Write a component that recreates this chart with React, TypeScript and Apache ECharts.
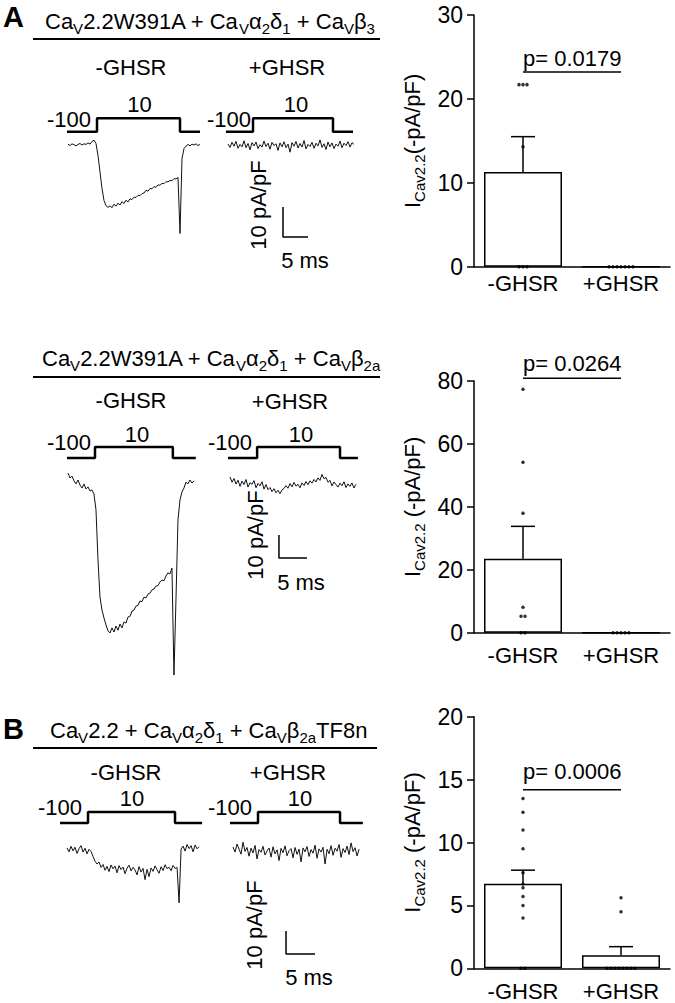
import React, { useEffect, useRef } from 'react';
import * as echarts from 'echarts';

const FONT = '"Liberation Sans", Arial, Helvetica, sans-serif';

// ---------------- Bar-chart data ----------------
const CATEGORIES = ['-GHSR', '+GHSR'];

// Panel A, CaV2.2W391A + CaVa2d1 + CaVb3
const A1_MEAN = [11.3, 0];
const A1_SEM = [4.2, 0];
const A1_PTS_MINUS = [21.7, 21.7, 21.7, 14.3, 0, 0, 0];
const A1_PTS_PLUS = [0, 0, 0, 0, 0, 0, 0];
const A1_BRACKET = 23.2;
const A1_P = 'p= 0.0179';
const A1_YMAX = 30;
const A1_YSTEP = 10;

// Panel A, CaV2.2W391A + CaVa2d1 + CaVb2a
const A2_MEAN = [23.5, 0];
const A2_SEM = [10.3, 0];
const A2_PTS_MINUS = [77.4, 54.2, 38.0, 8.1, 5.2, 5.2, 0, 0];
const A2_PTS_PLUS = [0, 0, 0, 0, 0];
const A2_BRACKET = 80.9;
const A2_P = 'p= 0.0264';
const A2_YMAX = 80;
const A2_YSTEP = 20;

// Panel B, CaV2.2 + CaVa2d1 + CaVb2aTF8n
const B_MEAN = [6.73, 1.03];
const B_SEM = [1.07, 0.69];
const B_PTS_MINUS = [13.5, 12.4, 11.0, 9.5, 7.6, 6.7, 6.4, 5.7, 5.0, 4.0, 0, 0];
const B_PTS_PLUS = [5.6, 4.5, 0, 0, 0, 0, 0, 0, 0, 0];
const B_BRACKET = 14.2;
const B_P = 'p= 0.0006';
const B_YMAX = 20;
const B_YSTEP = 5;

// ---------------- Voltage protocol (mV) ----------------
const V_HOLD = -100;
const V_TEST = 10;
// [start, step on, step off, end] in ms
const A1L_STEP_MS = [0, 6.0, 22.6, 26.6];
const A1R_STEP_MS = [0, 5.4, 21.4, 25.4];
const A2L_STEP_MS = [0, 5.0, 18.9, 23.0];
const A2R_STEP_MS = [0, 5.2, 20.0, 23.2];
const BL_STEP_MS = [0, 4.83, 19.83, 24.5];
const BR_STEP_MS = [0, 4.83, 18.97, 22.9];

// ---------------- Current traces (pA/pF), sampled every DT ms from T0 ----------------
const A1L_T0 = 0.2, A1L_DT = 0.4;
const A1L_TRACE = [0.3, -0.2, 0.4, 0.1, -0.3, 0.2, 0.5, 0.0, 0.4, 0.2, 0.7, 0.3, 1.2, 1.6, 0.5,
  -3.5, -9.0, -14.5, -18.5, -20.2, -20.8,
  -20.3, -20.9, -19.7, -20.4, -19.4, -20.0, -18.9, -19.5, -18.4, -19.0, -17.9, -18.2, -17.4, -17.5, -16.8,
  -16.9, -16.2, -16.0, -15.1, -15.4, -14.5, -14.6, -13.9, -14.1, -13.3, -13.4, -12.8, -12.9, -12.2, -12.3,
  -11.8, -11.9, -11.2, -11.3, -10.8,
  -29.5, -4.5, -1.2, -0.4, 0.2, -0.3, 0.3, 0.0, 0.4, -0.2, 0.2];

const A1R_T0 = 0.4, A1R_DT = 0.4;
const A1R_TRACE = [0.3, -0.8, 0.9, -0.4, 1.2, -1.1, 0.2, -0.6, 1.4, -0.9, 0.5, -1.6, 0.8, -0.3, 1.0, -1.2,
  0.1, -0.7, 1.3, -0.5, 0.6, -1.4, 0.9, -0.2, 0.4, -1.8, 0.7, -0.6, 1.1, -0.9, 0.3, -2.4, 0.8, -0.4, 1.2,
  -1.0, 0.5, -0.7, 1.5, -1.3, 0.2, -0.5, 0.9, -1.1, 0.6, -0.3, 1.7, -0.8, 0.4, -1.5, 1.0, -0.6, 0.7, -1.2,
  0.3, -0.4, 1.3, -0.9, 0.6, -0.2, 1.1, -0.7, 0.8, 0.2];

const A2L_T0 = 0.18, A2L_DT = 0.357;
const A2L_TRACE = [4.3, 2.2, 3.0, 0.9, -0.4, 1.3, -0.9, -2.2, -0.4, -2.6, -1.7, -3.5, -3.0, -4.8,
  -11.7, -33.5, -49.6, -55.2, -58.7, -61.7, -64.3, -65.2, -63.0, -64.8, -62.2, -64.0, -61.3, -63.0,
  -60.4, -60.9, -58.3, -58.0, -55.7, -55.3, -53.5, -53.2, -51.3, -51.6, -49.6, -50.0, -48.3, -47.9,
  -46.5, -46.1, -44.8, -44.6, -43.0, -42.2, -42.5, -40.4, -39.1, -39.5, -37.0,
  -83.5, -50.9, -16.1, -7.4, -3.9, -2.2, 0.4, -0.4, 1.3, 0.0, 0.9];

const A2R_T0 = 0.36, A2R_DT = 0.357;
const A2R_TRACE = [3.5, 1.2, 2.8, 0.4, 2.1, -0.6, 1.7, 0.2, 2.4, -0.9, 1.0, 0.3, 1.9, -1.2, 0.7, -0.4,
  1.4, -1.8, 0.2, -2.0, -1.1, -2.9, -1.6, -3.4, -2.3, -3.8, -2.1, -1.5, -0.3, -1.4, 0.6, -0.8, 1.1,
  -0.5, 0.3, -1.2, 0.9, -0.2, 1.5, 0.1, 1.8, 0.8, 2.4, 1.3, 3.1, 2.0, 4.6, 2.7, 3.3, 1.2, 2.0, -0.4,
  1.3, 0.2, -0.9, 0.8, -0.3, 1.4, -1.1, 0.5, -0.6, 0.9, -1.3, 0.3];

const BL_T0 = 1.21, BL_DT = 0.345;
const BL_TRACE = [0.9, -0.8, 1.6, -0.4, 1.2, -1.5, 0.6, 1.9, -0.9, 0.8, -1.7, 0.3, -0.6,
  -2.8, -4.9, -6.1, -5.2, -7.6,
  -6.3, -8.8, -7.1, -9.4, -6.5, -8.2, -7.0, -9.9, -6.8, -8.5, -7.4, -10.3, -7.9, -6.6, -9.1, -7.5,
  -8.7, -10.8, -7.2, -9.6, -8.0, -12.9, -8.4, -11.6, -7.8, -9.3, -6.9, -8.6, -10.1, -7.3, -8.9, -6.4,
  -8.1, -7.5, -9.0, -6.7, -8.0,
  -7.6, -23.0, 0.4, 1.7, -0.5, 2.4, 0.6, 1.9, -0.8, 2.2, 0.5, 1.4];

const BR_T0 = 0.52, BR_DT = 0.345;
const BR_TRACE = [1.3, -0.9, 2.6, 0.4, -1.8, 3.4, -0.6, 1.1, -2.7, 0.8, -1.3, 2.0, -3.9, 0.2, -1.0,
  1.6, -2.2, -0.4, 0.9, -3.1, 1.4, -1.7, 0.1, -4.6, 0.7, -1.2, 1.8, -2.5, -0.3, 0.6, -3.4, 1.1, -1.9,
  0.4, -5.2, 0.9, -0.8, 1.5, -2.8, 0.2, -1.4, 2.1, -3.6, 0.5, -0.9, 1.2, -6.1, 0.3, -1.6, 1.9, -2.3,
  0.8, -0.5, 2.4, -3.2, 0.6, -1.1, 1.7, -2.0, 3.1, -0.7, 1.0, -2.6, 0.4];

// Scale bars: 10 pA/pF and 5 ms
const SCALE_I = 10;
const SCALE_T = 5;

// ---------------- Layout ----------------
const BAR_PANELS = [
  { top: 15, height: 251.7, max: A1_YMAX, interval: A1_YSTEP, mean: A1_MEAN, sem: A1_SEM,
    pts: [A1_PTS_MINUS, A1_PTS_PLUS], bracket: A1_BRACKET, p: A1_P, pY: 58.5, labelMargin: 6,
    name: '{i|I}{s|Cav2.2}{i|(-pA/pF)}' },
  { top: 381, height: 251.7, max: A2_YMAX, interval: A2_YSTEP, mean: A2_MEAN, sem: A2_SEM,
    pts: [A2_PTS_MINUS, A2_PTS_PLUS], bracket: A2_BRACKET, p: A2_P, pY: 363, labelMargin: 12,
    name: '{i|I}{s|Cav2.2}{i| (-pA/pF)}' },
  { top: 716.7, height: 251.6, max: B_YMAX, interval: B_YSTEP, mean: B_MEAN, sem: B_SEM,
    pts: [B_PTS_MINUS, B_PTS_PLUS], bracket: B_BRACKET, p: B_P, pY: 771.7, labelMargin: 12,
    name: '{i|I}{s|Cav2.2}{i| (-pA/pF)}' },
];
const BAR_LEFT = 474;
const BAR_WIDTH = 196;

const TRACE_PANELS = [
  { left: 67, top: 110, width: 134, height: 130, pxPerMs: 5, pxPerUnit: 3, zeroY: 145, vBaseY: 131.7, vTopY: 118.3,
    step: A1L_STEP_MS, t0: A1L_T0, dt: A1L_DT, trace: A1L_TRACE },
  { left: 226, top: 110, width: 130, height: 135, pxPerMs: 5, pxPerUnit: 3, zeroY: 145, vBaseY: 131.7, vTopY: 118.3,
    step: A1R_STEP_MS, t0: A1R_T0, dt: A1R_DT, trace: A1R_TRACE, scaleAt: [11.4, -20.67] },
  { left: 67, top: 425, width: 130, height: 255, pxPerMs: 5.6, pxPerUnit: 2.3, zeroY: 483, vBaseY: 458, vTopY: 447,
    step: A2L_STEP_MS, t0: A2L_T0, dt: A2L_DT, trace: A2L_TRACE },
  { left: 228, top: 425, width: 132, height: 140, pxPerMs: 5.6, pxPerUnit: 2.3, zeroY: 485, vBaseY: 458, vTopY: 447,
    step: A2R_STEP_MS, t0: A2R_T0, dt: A2R_DT, trace: A2R_TRACE, scaleAt: [9.1, -21.7] },
  { left: 60, top: 790, width: 142, height: 125, pxPerMs: 5.8, pxPerUnit: 2.3, zeroY: 850, vBaseY: 823, vTopY: 812,
    step: BL_STEP_MS, t0: BL_T0, dt: BL_DT, trace: BL_TRACE },
  { left: 230, top: 790, width: 133, height: 170, pxPerMs: 5.8, pxPerUnit: 2.3, zeroY: 850, vBaseY: 823, vTopY: 812,
    step: BR_STEP_MS, t0: BR_T0, dt: BR_DT, trace: BR_TRACE, scaleAt: [9.66, -35.2] },
];

function swarm(values: number[], cat: number, pxPerUnit: number, spacing = 4) {
  const sorted = values.slice().sort((a, b) => a - b);
  const clusters: number[][] = [];
  for (const v of sorted) {
    const last = clusters[clusters.length - 1];
    if (last && Math.abs(v - last[0]) * pxPerUnit < 3) last.push(v);
    else clusters.push([v]);
  }
  const out: any[] = [];
  clusters.forEach((c) =>
    c.forEach((v, k) => out.push({ value: [cat, v], symbolOffset: [(k - (c.length - 1) / 2) * spacing, 0] }))
  );
  return out;
}

function txt(x: number, y: number, text: string, o: any = {}) {
  return {
    type: 'text', x, y, rotation: o.rotation || 0, silent: true,
    style: {
      text, fill: '#000', fontFamily: FONT, fontSize: o.size || 22, fontWeight: o.weight || 'normal',
      textAlign: o.align || 'center', textVerticalAlign: 'middle', rich: o.rich,
    },
  };
}

const TITLE_RICH = {
  n: { fontSize: 22, lineHeight: 30, fontFamily: FONT, fill: '#000', color: '#000' },
  s: { fontSize: 15, verticalAlign: 'bottom', fontFamily: FONT, fill: '#000', color: '#000' },
};

function hline(x1: number, x2: number, y: number, w = 2) {
  return { type: 'line', silent: true, shape: { x1, y1: y, x2, y2: y }, style: { stroke: '#000', lineWidth: w } };
}

function buildOption() {
  const grid: any[] = [];
  const xAxis: any[] = [];
  const yAxis: any[] = [];
  const series: any[] = [];

  BAR_PANELS.forEach((b, g) => {
    grid.push({ left: BAR_LEFT, top: b.top, width: BAR_WIDTH, height: b.height, containLabel: false, outerBoundsMode: 'none' });
    xAxis.push({
      type: 'category', gridIndex: g, data: CATEGORIES,
      axisLine: { show: true, lineStyle: { color: '#000', width: 1.5 } },
      axisTick: { show: false },
      axisLabel: { color: '#000', fontSize: 22, fontFamily: FONT, margin: b.labelMargin, interval: 0, hideOverlap: false },
    });
  });
  BAR_PANELS.forEach((b, g) => {
    yAxis.push({
      type: 'value', gridIndex: g, min: 0, max: b.max, interval: b.interval,
      axisLine: { show: true, lineStyle: { color: '#000', width: 1.5 } },
      axisTick: { show: true, length: 7, lineStyle: { color: '#000', width: 1.5 } },
      splitLine: { show: false },
      axisLabel: { color: '#000', fontSize: 23, fontFamily: FONT, margin: 11 },
      name: b.name, nameLocation: 'middle', nameRotate: 90, nameGap: 47,
      nameTextStyle: {
        color: '#000', fontFamily: FONT, fontSize: 22,
        rich: {
          i: { fontSize: 22, lineHeight: 30, fontFamily: FONT, color: '#000' },
          s: { fontSize: 15, verticalAlign: 'bottom', fontFamily: FONT, color: '#000' },
        },
      },
    });
  });

  TRACE_PANELS.forEach((t, k) => {
    const g = 3 + k;
    grid.push({ left: t.left, top: t.top, width: t.width, height: t.height, containLabel: false, outerBoundsMode: 'none' });
    xAxis.push({ type: 'value', gridIndex: g, min: 0, max: t.width / t.pxPerMs, show: false });
  });
  TRACE_PANELS.forEach((t, k) => {
    const g = 3 + k;
    const bottom = t.top + t.height;
    yAxis.push({
      type: 'value', gridIndex: g, show: false,
      max: (t.zeroY - t.top) / t.pxPerUnit, min: -(bottom - t.zeroY) / t.pxPerUnit,
    });
  });
  TRACE_PANELS.forEach((t, k) => {
    const g = 3 + k;
    const bottom = t.top + t.height;
    const mvPerPx = (V_TEST - V_HOLD) / (t.vBaseY - t.vTopY);
    yAxis.push({
      type: 'value', gridIndex: g, show: false,
      max: V_TEST + (t.vTopY - t.top) * mvPerPx, min: V_HOLD - (bottom - t.vBaseY) * mvPerPx,
    });
  });

  // bar series
  BAR_PANELS.forEach((b, g) => {
    const pxPerUnit = b.height / b.max;
    series.push({
      type: 'bar', xAxisIndex: g, yAxisIndex: g, data: b.mean, barWidth: 78, z: 2, silent: true,
      itemStyle: { color: '#fff', borderColor: '#000', borderWidth: 1.5 },
    });
    series.push({
      type: 'custom', xAxisIndex: g, yAxisIndex: g, z: 3, silent: true, clip: false,
      data: b.mean.map((m, i) => [i, m, b.sem[i]]),
      encode: { x: 0, y: 1 },
      renderItem: (params: any, api: any) => {
        const sem = api.value(2);
        if (!sem) return null;
        const cat = api.value(0);
        const mean = api.value(1);
        const p0 = api.coord([cat, mean]);
        const p1 = api.coord([cat, mean + sem]);
        const st = { stroke: '#000', lineWidth: 1.5 };
        return {
          type: 'group',
          children: [
            { type: 'line', shape: { x1: p0[0], y1: p0[1], x2: p1[0], y2: p1[1] }, style: st },
            { type: 'line', shape: { x1: p1[0] - 12, y1: p1[1], x2: p1[0] + 12, y2: p1[1] }, style: st },
          ],
        };
      },
    });
    series.push({
      type: 'scatter', xAxisIndex: g, yAxisIndex: g, z: 4, silent: true, symbol: 'circle', symbolSize: 3.5,
      itemStyle: { color: '#000' }, clip: false,
      data: [...swarm(b.pts[0], 0, pxPerUnit), ...swarm(b.pts[1], 1, pxPerUnit)],
    });
    series.push({
      type: 'line', xAxisIndex: g, yAxisIndex: g, z: 4, silent: true, symbol: 'none', clip: false,
      lineStyle: { color: '#000', width: 1.5 },
      data: [[0, b.bracket], [1, b.bracket]],
    });
  });

  // trace series
  TRACE_PANELS.forEach((t, k) => {
    const g = 3 + k;
    series.push({
      type: 'line', xAxisIndex: g, yAxisIndex: g, silent: true, symbol: 'none', showSymbol: false, clip: false,
      lineStyle: { color: '#111', width: 1 },
      data: t.trace.map((v, i) => [t.t0 + i * t.dt, v]),
    });
    const s = t.step;
    series.push({
      type: 'line', xAxisIndex: g, yAxisIndex: 9 + k, silent: true, symbol: 'none', clip: false,
      lineStyle: { color: '#000', width: 2.5 },
      data: [[s[0], V_HOLD], [s[1], V_HOLD], [s[1], V_TEST], [s[2], V_TEST], [s[2], V_HOLD], [s[3], V_HOLD]],
    });
    if (t.scaleAt) {
      const [x0, y0] = t.scaleAt;
      series.push({
        type: 'line', xAxisIndex: g, yAxisIndex: g, silent: true, symbol: 'none', clip: false,
        lineStyle: { color: '#000', width: 1.5 },
        data: [[x0, y0], [x0, y0 - SCALE_I], [x0 + SCALE_T, y0 - SCALE_I]],
      });
    }
  });

  const elements: any[] = [
    txt(3, 17, 'A', { size: 29, weight: 'bold', align: 'left' }),
    txt(3, 729, 'B', { size: 29, weight: 'bold', align: 'left' }),
    txt(45, 21, '{n|Ca}{s|V}{n|2.2W391A + Ca}{s|V}{n|α}{s|2}{n|δ}{s|1}{n| + Ca}{s|V}{n|β}{s|3}', { align: 'left', rich: TITLE_RICH }),
    txt(42, 358, '{n|Ca}{s|V}{n|2.2W391A + Ca}{s|V}{n|α}{s|2}{n|δ}{s|1}{n| + Ca}{s|V}{n|β}{s|2a}', { align: 'left', rich: TITLE_RICH }),
    txt(50, 730, '{n|Ca}{s|V}{n|2.2 + Ca}{s|V}{n|α}{s|2}{n|δ}{s|1}{n| + Ca}{s|V}{n|β}{s|2a}{n|TF8n}', { align: 'left', rich: TITLE_RICH }),
    hline(33, 380, 39),
    hline(33, 380, 377),
    hline(33, 377, 748),
    txt(131, 67, '-GHSR'), txt(287, 67, '+GHSR'),
    txt(131, 400, '-GHSR'), txt(290, 401, '+GHSR'),
    txt(126, 772, '-GHSR'), txt(288, 772, '+GHSR'),
    txt(91, 119, '-100', { align: 'right' }), txt(139.5, 104, '10'),
    txt(251, 119, '-100', { align: 'right' }), txt(296, 104, '10'),
    txt(91, 442, '-100', { align: 'right' }), txt(137, 434, '10'),
    txt(252, 442, '-100', { align: 'right' }), txt(301, 434, '10'),
    txt(82, 807, '-100', { align: 'right' }), txt(132, 798, '10'),
    txt(252, 807, '-100', { align: 'right' }), txt(300, 798, '10'),
    txt(258, 205, '10 pA/pF', { rotation: Math.PI / 2 }), txt(305, 260, '5 ms'),
    txt(255, 535, '10 pA/pF', { rotation: Math.PI / 2 }), txt(301, 582, '5 ms'),
    txt(254, 925, '10 pA/pF', { rotation: Math.PI / 2 }), txt(309, 977, '5 ms'),
  ];
  BAR_PANELS.forEach((b) => elements.push(txt(523, b.pY, b.p, { align: 'left' })));

  return {
    animation: false,
    backgroundColor: '#fff',
    textStyle: { fontFamily: FONT },
    grid, xAxis, yAxis, series,
    graphic: { elements },
  };
}

export default function App() {
  const ref = useRef<HTMLDivElement>(null);
  useEffect(() => {
    if (!ref.current) return;
    const chart = echarts.init(ref.current, undefined, { renderer: 'svg' });
    chart.setOption(buildOption() as any);
    return () => chart.dispose();
  }, []);
  return (
    <div
      ref={ref}
      style={{ position: 'absolute', left: 0, top: 0, width: 675, height: 1003, background: '#fff' }}
    />
  );
}
